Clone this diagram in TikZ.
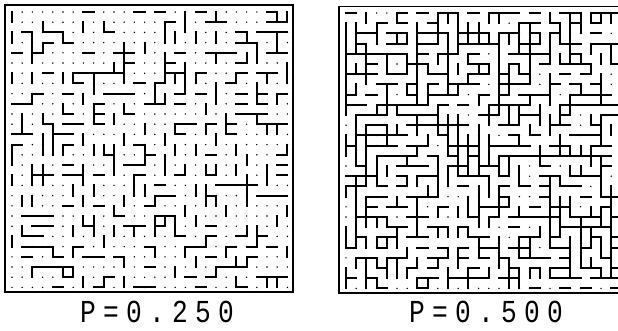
\documentclass[tikz,border=0pt]{standalone}
\usepackage{fontspec}
\newfontfamily\plotfont{Liberation Mono}
\tikzset{
  bond/.style={line width=1.9pt, line cap=rect},
  panelframe/.style={line width=1.3pt},
  plotlabel/.style={font=\plotfont\fontsize{32}{32}\selectfont, inner sep=0pt, anchor=center}
}
\newcommand\pc[1]{\makebox[23pt]{\scalebox{0.82}[1]{#1}}}
\newcommand\drawlattice[3]{%
  \foreach \i in {0,...,27}{%
    \foreach \j in {0,...,27}{%
      \fill ({#1+7+\i*10.2},{#2+7+\j*10.2}) circle (0.8);
      \ifnum\i<27
        \pgfmathrnd
        \ifdim\pgfmathresult pt<#3pt
          \draw[bond] ({#1+7+\i*10.2},{#2+7+\j*10.2}) -- ++(10.2,0);
        \fi
      \fi
      \ifnum\j<27
        \pgfmathrnd
        \ifdim\pgfmathresult pt<#3pt
          \draw[bond] ({#1+7+\i*10.2},{#2+7+\j*10.2}) -- ++(0,10.2);
        \fi
      \fi
    }%
  }%
}
\begin{document}
\begin{tikzpicture}[x=1pt,y=-1pt]
\useasboundingbox (0,0) rectangle (618,330);
\begin{scope}
  \clip (0,0) rectangle (618,330);
  \pgfmathsetseed{4711}
  \drawlattice{5}{5}{0.25}
  \drawlattice{339}{6}{0.5}
  \draw[panelframe] (5,5) rectangle (293,292);
  \draw[panelframe] (339,6.5) rectangle (627,293);
\end{scope}
\node[plotlabel] (pa) at (157,312) {\pc{P}\pc{=}\pc{0}\pc{.}\pc{2}\pc{5}\pc{0}};
\node[plotlabel] (pb) at (486,312) {\pc{P}\pc{=}\pc{0}\pc{.}\pc{5}\pc{0}\pc{0}};
\end{tikzpicture}
\end{document}
